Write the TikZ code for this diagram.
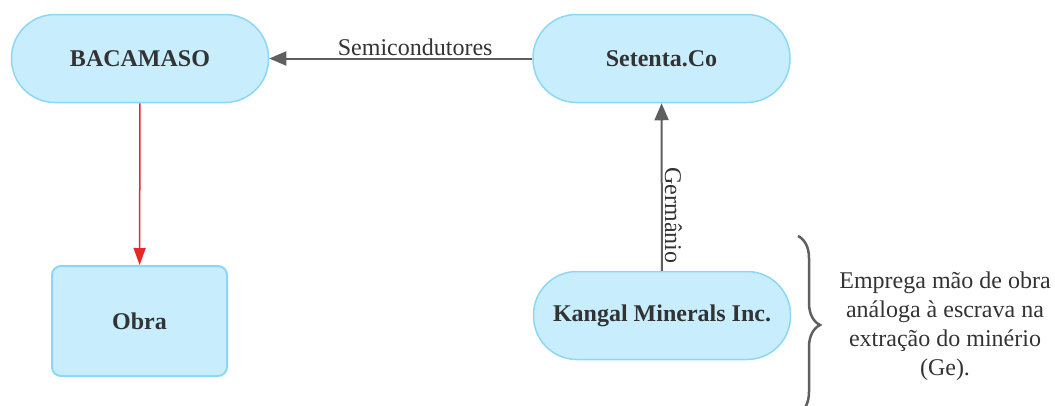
\documentclass[tikz,border=0pt]{standalone}
\usepackage{fontspec}
\setmainfont{Liberation Serif}
\usetikzlibrary{arrows.meta, decorations.pathreplacing, positioning}
\definecolor{nodefill}{RGB}{200,237,253}
\definecolor{nodeline}{RGB}{140,215,248}
\definecolor{linkgray}{RGB}{95,95,95}
\definecolor{linkred}{RGB}{232,40,40}
\definecolor{textgray}{RGB}{51,51,51}
\tikzset{pill/.style={
    draw = nodeline, fill = nodefill, line width = 1.5pt,
    rounded corners = 43.5pt, minimum width = 257pt, minimum height = 88pt,
    font = \fontsize{24}{29}\selectfont\bfseries, text = textgray
    },
    card/.style={
    draw = nodeline, fill = nodefill, line width = 2pt,
    rounded corners = 9pt, minimum width = 175pt, minimum height = 110pt,
    font = \fontsize{24}{29}\selectfont\bfseries, text = textgray
    },
    link/.style={draw = linkgray, line width = 2pt, -{Triangle[length=17pt, width=14pt]}},
    redlink/.style={draw = linkred, line width = 1.5pt, -{Triangle[length=17pt, width=12pt]}},
    linklabel/.style={font = \fontsize{24}{29}\selectfont, text = textgray, inner sep = 2pt}
}

\begin{document}
\begin{tikzpicture}[x = 1pt, y = -1pt]
        \useasboundingbox (0, 0) rectangle (1055, 405);

        \node[pill] (bacamaso) at (140, 58.5) {BACAMASO};
        \node[pill] (setenta) at (661.5, 58.5) {Setenta.Co};
        \node[pill] (kangal) at (662, 315.5) {Kangal Minerals Inc.};
        \node[card] (obra) at (139.5, 321) {Obra};

        \draw[link] (setenta) -- (bacamaso) node[linklabel, pos = 0.445, above] {Semicondutores};
        \draw[link] (kangal) -- (setenta) node[linklabel, pos = 0.33, rotate = -90, anchor = south] {Germânio};
        \draw[redlink] (bacamaso) -- (obra);

        \coordinate (bracetop) at (798, 236);
        \coordinate (bracebot) at (798, 414);
        \draw[linkgray, line width = 2.5pt, decorate, decoration = {brace, amplitude = 22pt}] (bracetop) -- (bracebot);
        \node[linklabel, align = center] (note) at (945, 326) {Emprega mão de obra\\análoga à escrava na\\extração do minério\\(Ge).};
\end{tikzpicture}
\end{document}
